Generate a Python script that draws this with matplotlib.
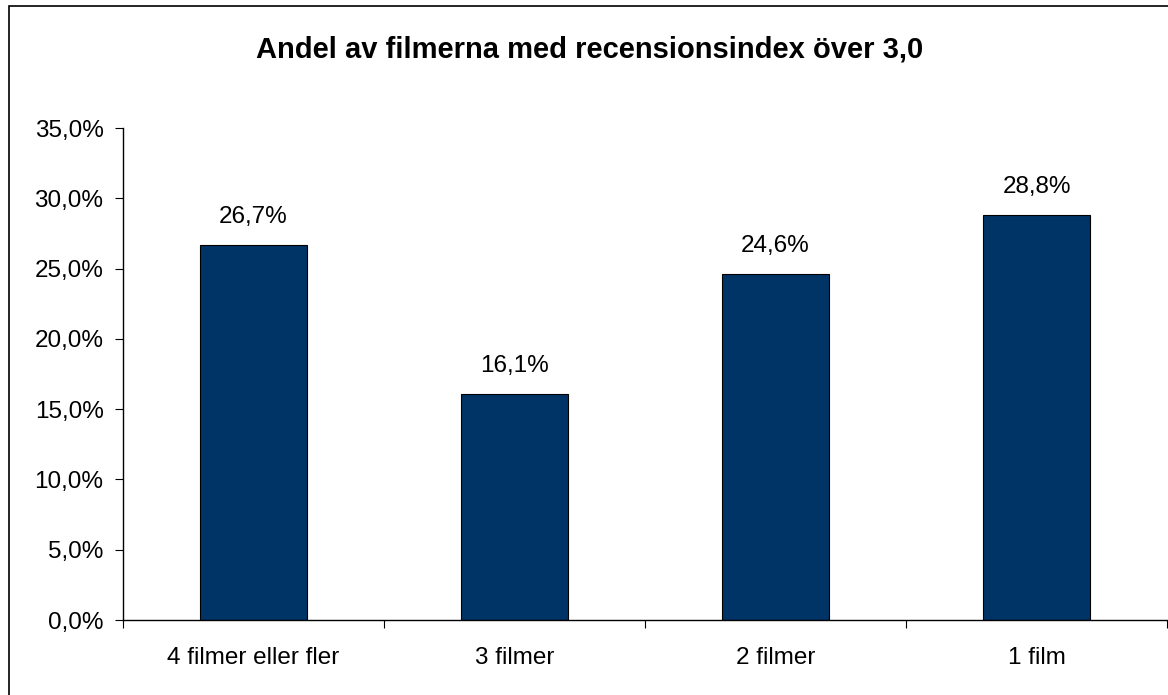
import matplotlib.pyplot as plt
from matplotlib.patches import Rectangle
from matplotlib.ticker import FuncFormatter

categories = ['4 filmer eller fler', '3 filmer', '2 filmer', '1 film']
values = [26.7, 16.1, 24.6, 28.8]
title = 'Andel av filmerna med recensionsindex över 3,0'

plt.rcParams['font.family'] = ['Liberation Sans', 'DejaVu Sans']

W, H = 1168, 695
fig = plt.figure(figsize=(W / 100, H / 100), dpi=100)
fig.patch.set_facecolor('white')

# outer chart border (cut off at the right and bottom in the original)
fig.patches.append(Rectangle((9 / W, -0.1), 1.2, 1.1 - 6 / H, transform=fig.transFigure,
                             fill=False, edgecolor='black', linewidth=1.2))

ax = fig.add_axes([123 / W, (H - 620) / H, (1167 - 123) / W, (620 - 128) / H])

x = range(len(categories))
bars = ax.bar(x, values, width=0.41, color='#003366', edgecolor='black', linewidth=0.8)

fs = 17.5
for b, v in zip(bars, values):
    ax.annotate(f'{v:.1f}%'.replace('.', ','), (b.get_x() + b.get_width() / 2, v),
                xytext=(0, 20), textcoords='offset points', ha='center', va='center',
                fontsize=fs)

ax.set_xlim(-0.5, len(categories) - 0.5)
ax.set_ylim(0, 35)
ax.set_yticks(range(0, 36, 5))
ax.yaxis.set_major_formatter(FuncFormatter(lambda v, p: f'{v:.1f}%'.replace('.', ',')))
ax.set_xticks(x)
ax.set_xticklabels(categories)
ax.set_xticks([i - 0.5 for i in range(len(categories) + 1)], minor=True)
ax.tick_params(axis='x', which='major', length=0, pad=19.5, labelsize=fs)
ax.tick_params(axis='x', which='minor', length=6, width=0.8, direction='out')
ax.tick_params(axis='y', length=6, width=0.8, direction='out', pad=8, labelsize=fs)

for s in ['top', 'right']:
    ax.spines[s].set_visible(False)
for s in ['left', 'bottom']:
    ax.spines[s].set_linewidth(1.0)

fig.text(590 / W, 1 - 50 / H, title, ha='center', va='center', fontsize=21, fontweight='bold')

fig.savefig('out.png', dpi=100)
